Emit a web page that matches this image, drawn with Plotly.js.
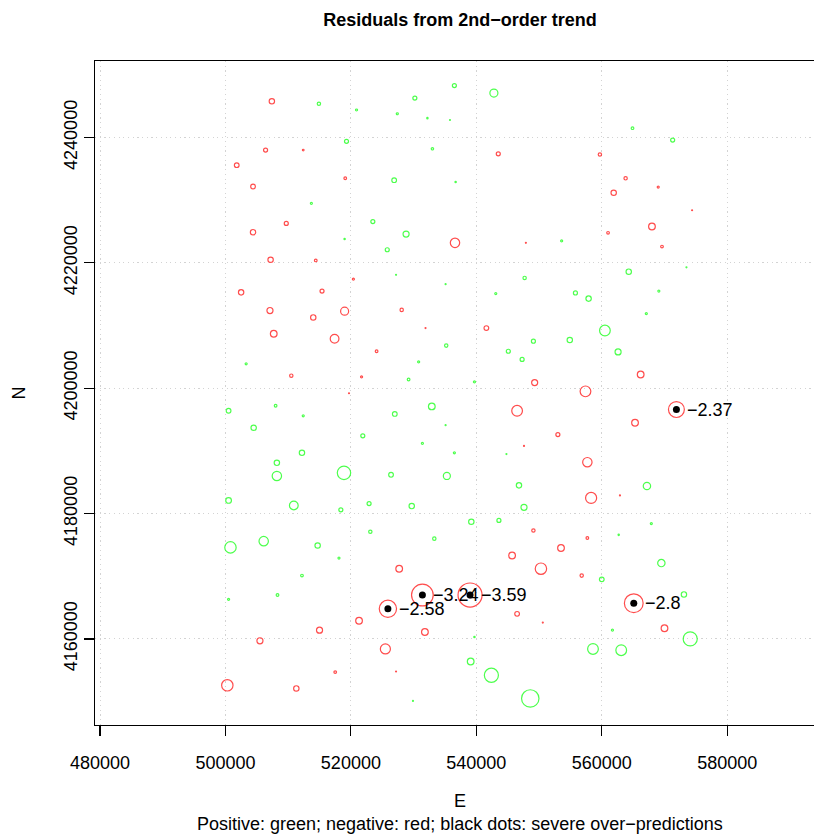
<!DOCTYPE html>
<html>
<head>
<meta charset="utf-8">
<script src="https://cdn.plot.ly/plotly-3.0.1.min.js"></script>
<style>
  html, body { margin: 0; padding: 0; overflow: hidden; background: #fff; }
  #plot { width: 825px; height: 834px; }
</style>
</head>
<body>
<div id="plot"></div>
<script>
// Sample locations (UTM easting / northing, m) and residuals of the 2nd-order trend surface
const easting = [
  507400, 514900, 520900, 530200, 527400, 532200, 535800, 506400, 512400, 519300,
  533000, 501800, 504400, 519100, 526900, 513700, 509700, 523500, 504400, 528800,
  519000, 525800, 507200, 514400, 520400, 527200, 536500, 542800, 564900, 571300,
  543500, 559700, 536700, 563800, 569000, 561900, 574400, 536600, 547900, 553600,
  561000, 568000, 569600, 547700, 564300, 573500, 535100, 502500, 515400, 507100,
  514000, 519000, 528100, 507700, 517400, 531900, 535200, 524100, 503300, 510500,
  521700, 530800, 529200, 519700, 500500, 508000, 512400, 527000, 532900, 535100,
  504500, 521900, 531400, 512200, 508200, 508200, 518900, 526400, 535300, 500500,
  543100, 555800, 557900, 569100, 567100, 541600, 560500, 549100, 554900, 545100,
  547300, 562600, 566200, 539700, 549300, 557400, 571900, 546500, 565300, 553000,
  547600, 536500, 544800, 546800, 557700, 567200, 558300, 562900, 510900, 518400,
  522900, 529700, 500800, 506100, 514700, 523100, 533300, 518100, 512200, 527700,
  500500, 508300, 531400, 525900, 521300, 515000, 505500, 531800, 525500, 517500,
  527200, 500300, 511300, 529900, 547600, 539200, 543600, 567900, 549100, 557700,
  562700, 553500, 545700, 550300, 556800, 560000, 569500, 539000, 565100, 573100,
  546500, 550600, 539700, 561700, 570000, 574100, 558600, 563100, 539100, 542400,
  548600
];
const northing = [
  4245800, 4245400, 4244400, 4246300, 4243800, 4243100, 4242800, 4238000, 4238000, 4239400,
  4238200, 4235600, 4232200, 4233500, 4233200, 4229500, 4226300, 4226600, 4224900, 4224600,
  4223800, 4222100, 4220500, 4220400, 4217400, 4218100, 4248300, 4247100, 4241500, 4239600,
  4237400, 4237300, 4232900, 4233500, 4232100, 4231200, 4228400, 4223200, 4223200, 4223500,
  4224800, 4225800, 4222600, 4217600, 4218600, 4219300, 4216600, 4215300, 4215500, 4212400,
  4211300, 4212300, 4212500, 4208700, 4207900, 4209600, 4206800, 4205900, 4203900, 4202000,
  4201800, 4204200, 4201400, 4199200, 4196400, 4197200, 4195600, 4195900, 4197100, 4194100,
  4193700, 4192400, 4191200, 4189700, 4188100, 4186000, 4186500, 4186200, 4186000, 4182100,
  4215100, 4215200, 4214300, 4215500, 4211900, 4209600, 4209200, 4207500, 4207700, 4205900,
  4204600, 4205800, 4202200, 4201000, 4200900, 4199500, 4196600, 4196400, 4194500, 4192600,
  4190800, 4189700, 4189500, 4184500, 4188200, 4184400, 4182500, 4182900, 4181300, 4180600,
  4181600, 4181200, 4174600, 4175600, 4174900, 4177100, 4176000, 4172900, 4170100, 4171200,
  4166300, 4167000, 4167000, 4164800, 4162900, 4161400, 4159700, 4161100, 4158400, 4154700,
  4154800, 4152600, 4152100, 4150100, 4181000, 4178700, 4178900, 4178400, 4177300, 4176100,
  4176600, 4174500, 4173300, 4171200, 4170100, 4169500, 4172100, 4167000, 4165700, 4167100,
  4164000, 4162600, 4160300, 4161400, 4161700, 4160000, 4158400, 4158200, 4156400, 4154200,
  4150500
];
const residual = [
  -0.80, 0.50, 0.30, 0.60, 0.30, 0.20, 0.15, -0.60, -0.25, 0.60,
  0.35, -0.70, -0.70, -0.40, 0.70, 0.30, -0.60, 0.60, -0.80, 0.90,
  0.20, 0.60, -0.80, -0.40, -0.30, 0.15, 0.60, 1.20, 0.40, 0.60,
  -0.60, -0.50, 0.20, -0.50, -0.30, -0.80, -0.15, -1.40, -0.15, 0.30,
  -0.40, -1.00, -0.40, 0.50, 0.80, 0.15, 0.15, -0.80, -0.60, -0.90,
  -0.80, -1.20, -0.50, -1.00, -1.30, -0.15, 0.50, -0.40, 0.30, -0.50,
  -0.30, 0.30, 0.40, -0.15, 0.70, 0.40, 0.30, 0.70, 1.00, 0.15,
  0.80, 0.60, 0.30, 0.80, 0.80, 1.40, 2.00, 0.70, 1.05, 0.85,
  0.30, 0.60, 0.80, 0.30, 0.30, -0.70, 1.60, 0.60, 0.80, 0.60,
  0.60, 0.90, -1.00, 0.30, -0.90, -1.60, -2.37, -1.60, -1.00, -0.60,
  -0.15, 0.30, 0.15, 0.80, -1.40, 1.10, -1.65, -0.15, 1.30, 0.60,
  0.60, 0.80, 1.70, 1.40, 0.80, 0.50, 0.50, 0.30, 0.40, -1.00,
  0.30, 0.40, -3.24, -2.58, -1.00, -0.90, -0.90, -1.00, -1.50, -0.40,
  -0.15, -1.70, -0.80, 0.15, 0.90, 0.80, 0.60, 0.30, -0.50, -0.40,
  0.20, -1.00, -1.00, -1.70, -0.50, 0.70, 1.10, -3.59, -2.80, 0.80,
  -0.70, -0.15, 0.20, 0.30, -1.00, 2.10, 1.60, 1.60, 1.00, 2.10,
  2.60
];

const xTickVals = [480000, 500000, 520000, 540000, 560000, 580000];
const xTickText = ['480000', '500000', '520000', '540000', '560000', '580000'];
const yTickVals = [4160000, 4180000, 4200000, 4220000, 4240000];
const yTickText = ['4160000', '4180000', '4200000', '4220000', '4240000'];

const severeCut = -2.3;          // residuals below this are flagged
const pxPerUnit = 6.7;           // circle diameter per unit of |residual|
const FONT = 'Liberation Sans, Arial, Helvetica, sans-serif';

const fmt = v => String(Math.round(v * 100) / 100).replace('-', '\u2212');

const bubbles = {
  type: 'scatter', mode: 'markers',
  x: easting, y: northing,
  marker: {
    symbol: 'circle-open',
    size: residual.map(r => Math.abs(r) * pxPerUnit),
    color: residual.map(r => r > 0 ? '#00FF00' : '#FF0000'),
    line: { width: 1.2 }
  },
  hoverinfo: 'skip'
};

const sevIdx = residual.map((r, i) => r < severeCut ? i : -1).filter(i => i >= 0);
const severe = {
  type: 'scatter', mode: 'markers',
  x: sevIdx.map(i => easting[i]), y: sevIdx.map(i => northing[i]),
  marker: { symbol: 'circle', size: 7, color: '#000000' },
  hoverinfo: 'skip'
};

const labels = sevIdx.map(i => ({
  x: easting[i], y: northing[i], xref: 'x', yref: 'y',
  text: fmt(residual[i]), showarrow: false,
  xanchor: 'left', yanchor: 'middle', xshift: 9,
  font: { family: FONT, size: 18, color: '#000' }
}));

const axisCommon = {
  showline: true, mirror: true, linecolor: '#000', linewidth: 1.2,
  ticks: 'outside', ticklen: 10, tickwidth: 1.2, tickcolor: '#000',
  showgrid: true, gridcolor: '#D3D3D3', gridwidth: 1, griddash: '1.2px,3.5px',
  zeroline: false, tickmode: 'array',
  tickfont: { family: FONT, size: 18, color: '#000' }
};

const layout = {
  width: 825, height: 834,
  margin: { l: 95, r: 0, t: 61, b: 109 },
  paper_bgcolor: '#fff', plot_bgcolor: '#fff',
  showlegend: false,
  font: { family: FONT, color: '#000' },
  title: {
    text: '<b>Residuals from 2nd\u2212order trend</b>',
    font: { family: FONT, size: 18, color: '#000' },
    xref: 'paper', x: 0.5, xanchor: 'center',
    yref: 'container', y: 1 - 20 / 834, yanchor: 'middle'
  },
  xaxis: Object.assign({}, axisCommon, {
    range: [479203, 595590],
    tickvals: xTickVals, ticktext: xTickText,
    ticklabelstandoff: 11,
    title: { text: 'E', font: { family: FONT, size: 18, color: '#000' }, standoff: 22 }
  }),
  yaxis: Object.assign({}, axisCommon, {
    range: [4146261, 4252218],
    tickvals: yTickVals, ticktext: yTickText, tickangle: -90,
    title: { text: 'N', font: { family: FONT, size: 18, color: '#000' }, standoff: 30 }
  }),
  annotations: labels.concat([{
    xref: 'paper', yref: 'paper', x: 0.5, y: (725 - 824) / 664,
    xanchor: 'center', yanchor: 'middle', showarrow: false,
    text: 'Positive: green; negative: red; black dots: severe over\u2212predictions',
    font: { family: FONT, size: 18, color: '#000' }
  }])
};

Plotly.newPlot('plot', [bubbles, severe], layout, { displayModeBar: false, staticPlot: true });
</script>
</body>
</html>
